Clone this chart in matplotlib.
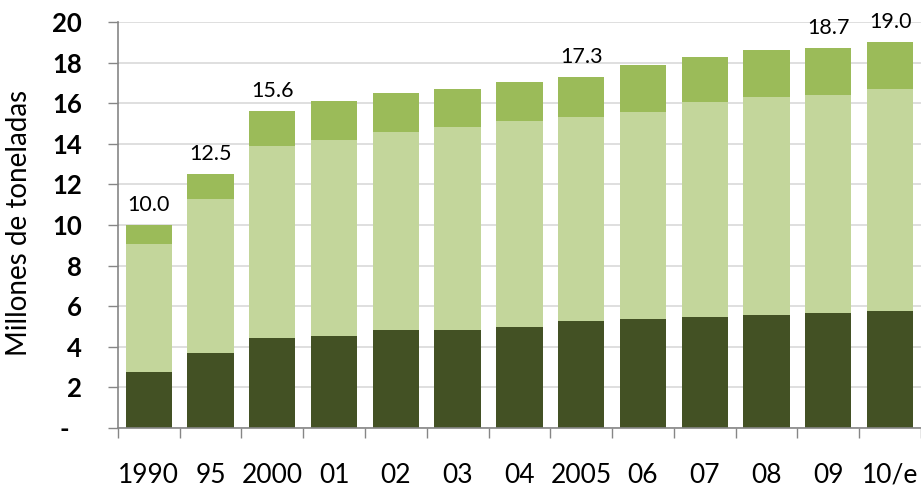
import matplotlib.pyplot as plt
import numpy as np

# Categories (years) and stacked segment values, millions of tonnes
years = ['1990', '95', '2000', '01', '02', '03', '04', '2005', '06', '07', '08', '09', '10/e']
bottom_seg = [2.77, 3.68, 4.43, 4.53, 4.83, 4.83, 4.99, 5.27, 5.37, 5.47, 5.57, 5.67, 5.75]
middle_seg = [6.29, 7.60, 9.47, 9.66, 9.74, 10.00, 10.13, 10.03, 10.21, 10.59, 10.75, 10.75, 10.95]
top_seg = [0.94, 1.22, 1.70, 1.93, 1.93, 1.85, 1.94, 2.00, 2.32, 2.20, 2.28, 2.28, 2.30]
total_labels = ['10.0', '12.5', '15.6', '', '', '', '', '17.3', '', '', '', '18.7', '19.0']

colors = ['#435124', '#c3d69b', '#9bbb59']

plt.rcParams['font.family'] = ['Lato', 'DejaVu Sans']

fig = plt.figure(figsize=(9.21, 4.90), dpi=100)
ax = fig.add_axes([0.128, 0.1265, 0.872, 0.8285])

x = np.arange(len(years))
b = np.array(bottom_seg)
m = np.array(middle_seg)
t = np.array(top_seg)

ax.bar(x, b, width=0.75, color=colors[0], zorder=2)
ax.bar(x, m, width=0.75, bottom=b, color=colors[1], zorder=2)
ax.bar(x, t, width=0.75, bottom=b + m, color=colors[2], zorder=2)

# total labels above selected bars
totals = b + m + t
for i, lab in enumerate(total_labels):
    if lab:
        ax.text(x[i], totals[i] + 0.5, lab, ha='center', va='bottom', fontsize=15.5, color='#000000')

ax.set_ylim(0, 20)
ax.set_xlim(-0.5, 12.2)

yt = np.arange(0, 21, 2)
ax.set_yticks(yt)
ax.set_yticklabels(['-  '] + [str(v) for v in yt[1:]], fontweight='bold', fontsize=18.5)
ax.tick_params(axis='y', length=7, width=1, color='#868686', pad=19)

ax.set_xticks(x)
ax.set_xticklabels(years, fontsize=19)
ax.tick_params(axis='x', which='major', length=0, pad=25)
ax.set_xticks(np.arange(-0.5, 13, 1), minor=True)
ax.tick_params(axis='x', which='minor', length=7, width=1, color='#868686')

ax.grid(axis='y', color='#d9d9d9', linewidth=1.2, zorder=0)
ax.set_axisbelow(True)

for s in ['top', 'right']:
    ax.spines[s].set_visible(False)
for s in ['left', 'bottom']:
    ax.spines[s].set_color('#868686')
    ax.spines[s].set_linewidth(1.2)

ax.set_ylabel('Millones de toneladas', fontsize=20)
ax.yaxis.set_label_coords(-0.107, 0.505)

fig.savefig('out.png', dpi=100)
